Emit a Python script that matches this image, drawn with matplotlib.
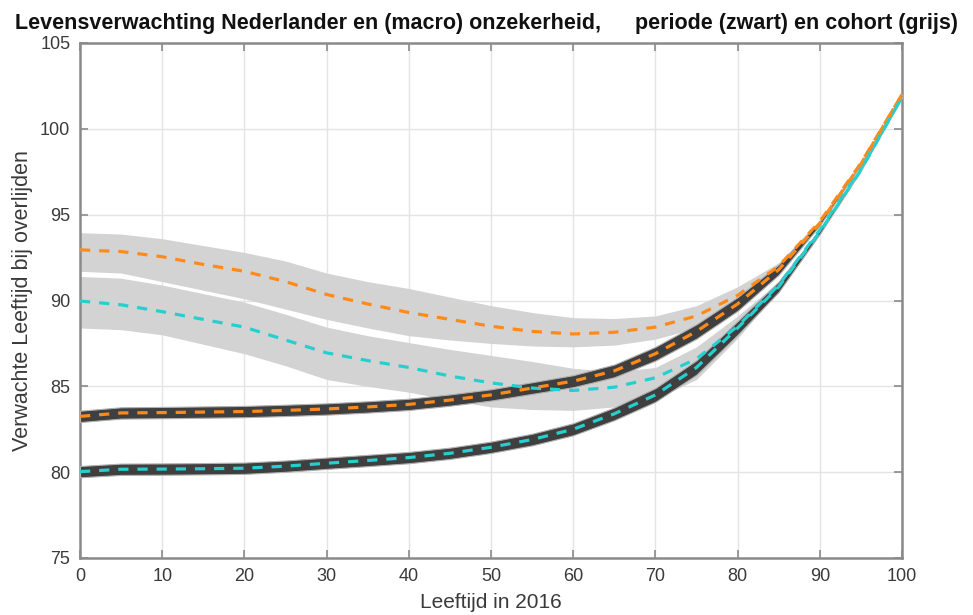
import matplotlib
matplotlib.use('Agg')
import matplotlib.pyplot as plt
import numpy as np

plt.rcParams['font.family'] = ['Liberation Sans', 'DejaVu Sans']

age = [0, 5, 10, 15, 20, 25, 30, 35, 40, 45, 50, 55, 60, 65, 70, 75, 80, 85, 90, 95, 100]

# cohort (grijs) - hoog scenario (oranje)
coh_hi = [92.95, 92.85, 92.55, 92.1, 91.7, 91.1, 90.35, 89.8, 89.3, 88.9, 88.5, 88.2, 88.05, 88.15, 88.45, 89.1, 90.3, 92.0, 94.6, 98.0, 102.0]
coh_hi_up = [93.95, 93.87, 93.6, 93.2, 92.8, 92.3, 91.6, 91.1, 90.7, 90.2, 89.7, 89.3, 89.0, 88.95, 89.1, 89.7, 90.8, 92.2, 94.7, 98.05, 102.0]
coh_hi_lo = [91.7, 91.6, 91.1, 90.6, 90.1, 89.5, 88.9, 88.4, 87.95, 87.7, 87.5, 87.35, 87.3, 87.4, 87.75, 88.4, 89.7, 91.7, 94.5, 97.95, 102.0]

# cohort (grijs) - laag scenario (cyaan)
coh_lo = [89.97, 89.75, 89.35, 88.9, 88.45, 87.7, 86.95, 86.5, 86.1, 85.6, 85.2, 84.9, 84.76, 84.95, 85.5, 86.6, 88.5, 90.9, 94.1, 97.7, 101.85]
coh_lo_up = [91.4, 91.3, 90.9, 90.4, 89.9, 89.2, 88.45, 87.95, 87.55, 87.15, 86.8, 86.45, 86.05, 85.85, 86.1, 87.3, 89.1, 91.1, 94.2, 97.75, 101.85]
coh_lo_lo = [88.4, 88.3, 88.0, 87.45, 86.9, 86.2, 85.4, 85.0, 84.66, 84.2, 83.8, 83.65, 83.6, 83.8, 84.27, 85.4, 87.8, 90.6, 94.0, 97.65, 101.85]

# periode (zwart)
per_hi = [83.25, 83.45, 83.47, 83.5, 83.53, 83.6, 83.68, 83.8, 83.95, 84.2, 84.5, 84.9, 85.3, 85.9, 86.9, 88.2, 89.8, 91.8, 94.5, 97.95, 102.0]
per_lo = [80.03, 80.17, 80.18, 80.2, 80.23, 80.35, 80.52, 80.68, 80.85, 81.1, 81.45, 81.9, 82.5, 83.4, 84.5, 86.1, 88.4, 90.8, 94.0, 97.6, 101.85]
per_halfw = [0.33, 0.33, 0.33, 0.33, 0.33, 0.33, 0.33, 0.33, 0.33, 0.33, 0.33, 0.34, 0.35, 0.37, 0.4, 0.42, 0.4, 0.3, 0.12, 0.04, 0.0]

age = np.array(age)
per_hi = np.array(per_hi)
per_lo = np.array(per_lo)
per_halfw = np.array(per_halfw)

fig = plt.figure(figsize=(9.73, 6.15), dpi=100)
ax = fig.add_axes([80 / 973, 1 - 558 / 615, (902 - 80) / 973, (558 - 43) / 615])

band = '#d3d3d3'
dark = '#3f3f3f'
orange = '#ff8a1a'
cyan = '#26cfcf'
dash = (3.2, 2.8)

ax.fill_between(age, coh_hi_lo, coh_hi_up, color=band, lw=0, zorder=2)
ax.fill_between(age, coh_lo_lo, coh_lo_up, color=band, lw=0, zorder=2)
ax.fill_between(age, per_hi - per_halfw, per_hi + per_halfw, color=dark, lw=0.8, edgecolor='#b0b0b0', zorder=3)
ax.fill_between(age, per_lo - per_halfw, per_lo + per_halfw, color=dark, lw=0.8, edgecolor='#b0b0b0', zorder=3)

ax.plot(age, coh_hi, color=orange, lw=2.3, dashes=dash, zorder=4)
ax.plot(age, coh_lo, color=cyan, lw=2.3, dashes=dash, zorder=4)
ax.plot(age, per_hi, color=orange, lw=2.3, dashes=dash, zorder=5)
ax.plot(age, per_lo, color=cyan, lw=2.3, dashes=dash, zorder=5)

ax.set_xlim(0, 100)
ax.set_ylim(75, 105)
ax.set_xticks(np.arange(0, 101, 10))
ax.set_yticks(np.arange(75, 106, 5))
ax.grid(True, color='#e4e4e4', lw=1.0, zorder=0)
ax.set_axisbelow(True)
for s in ax.spines.values():
    s.set_color('#8a8a8a')
    s.set_linewidth(1.8)
ax.tick_params(direction='in', length=6, width=1.2, color='#8a8a8a',
               top=True, right=True, labelsize=13, labelcolor='#3a3a3a', pad=7)

ax.set_xlabel('Leeftijd in 2016', fontsize=15, color='#3a3a3a', labelpad=6)
ax.set_ylabel('Verwachte Leeftijd bij overlijden', fontsize=15.5, color='#3a3a3a', labelpad=5)

# title in two parts, like the original (wide gap before 'periode')
fig.text(15 / 973, 1 - 23 / 615, 'Levensverwachting Nederlander en (macro) onzekerheid,',
         fontsize=15.5, fontweight='bold', va='center', ha='left', color='#111111')
fig.text(958 / 973, 1 - 23 / 615, 'periode (zwart) en cohort (grijs)',
         fontsize=15.5, fontweight='bold', va='center', ha='right', color='#111111')

fig.savefig('out.png', dpi=100)
